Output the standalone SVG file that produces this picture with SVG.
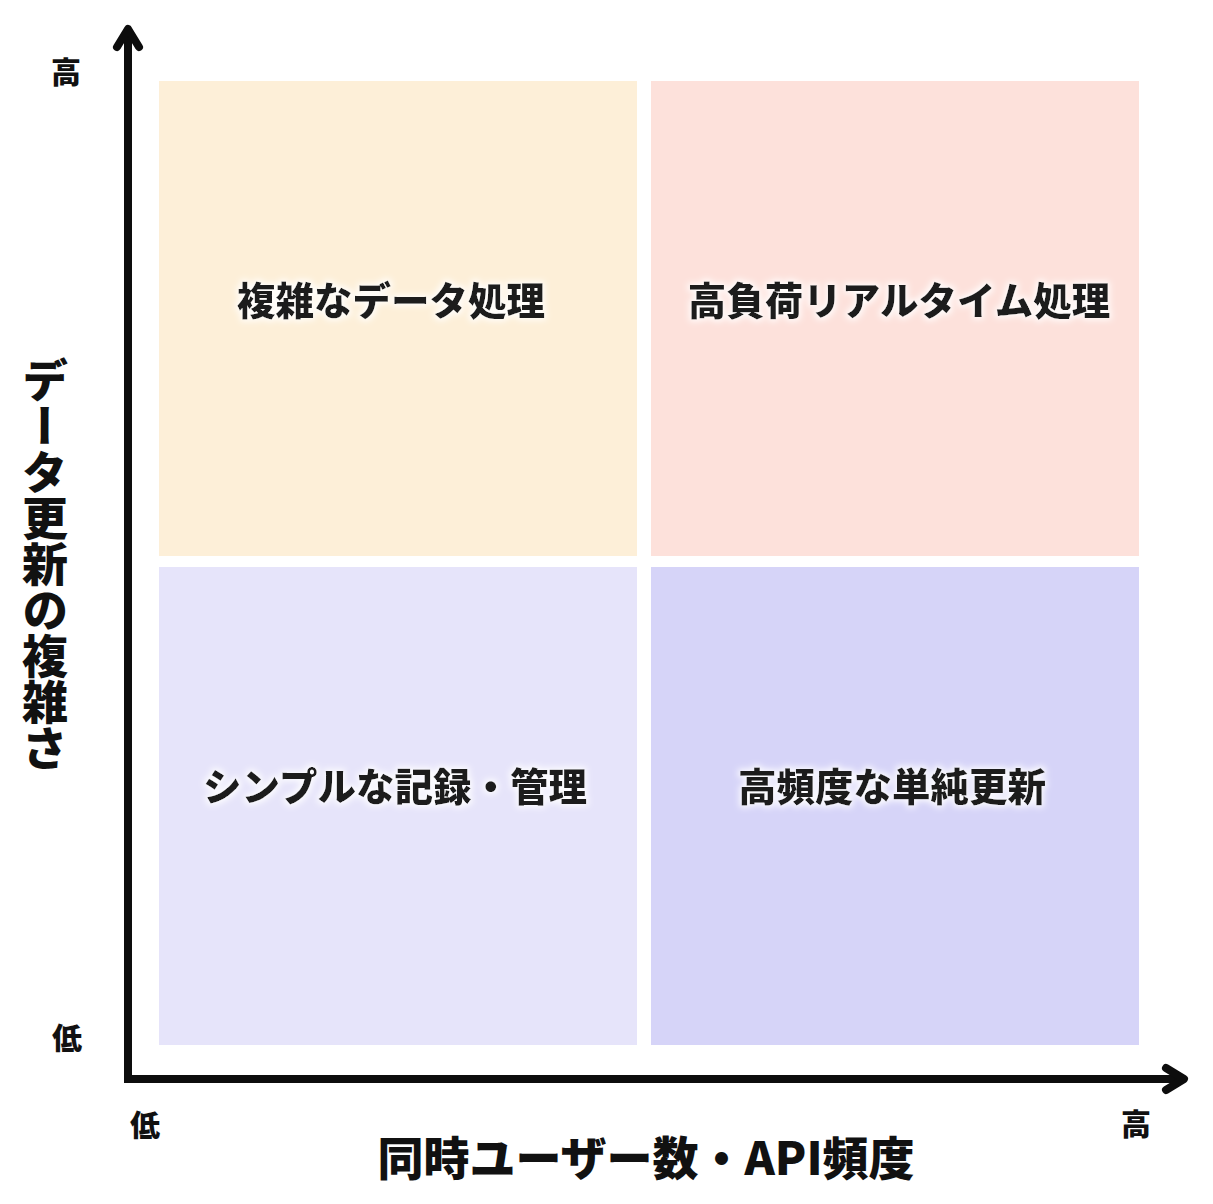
<svg xmlns="http://www.w3.org/2000/svg" width="1213" height="1204" viewBox="0 0 1213 1204">
<style>
  .q-label { font-family: "Noto Sans CJK JP", "Noto Sans", sans-serif; font-weight: 900; font-size: 38.5px; fill: #1a1a1a; text-anchor: middle; }
  .axis-title { font-family: "Noto Sans CJK JP", "Noto Sans", sans-serif; font-weight: 900; font-size: 46px; fill: #111; text-anchor: middle; }
  .tick { font-family: "Noto Sans CJK JP", "Noto Sans", sans-serif; font-weight: 900; font-size: 30px; fill: #111; text-anchor: middle; }
  .axis { fill: none; stroke: #0d0d0d; stroke-width: 8; }
  .head { fill: none; stroke: #0d0d0d; stroke-width: 8; stroke-linecap: round; stroke-linejoin: round; }
</style>
<defs>
  <filter id="glow" x="-10%" y="-50%" width="120%" height="200%">
    <feMorphology in="SourceAlpha" operator="dilate" radius="2" result="d"/>
    <feGaussianBlur in="d" stdDeviation="3" result="b"/>
    <feFlood flood-color="#ffffff" flood-opacity="0.9"/>
    <feComposite in2="b" operator="in" result="g"/>
    <feMerge><feMergeNode in="g"/><feMergeNode in="SourceGraphic"/></feMerge>
  </filter>
</defs>
<rect width="1213" height="1204" fill="#ffffff"/>

<g id="q-top-left">
  <rect x="159" y="81" width="478" height="475" fill="#fdefd8"/>
  <text class="q-label" x="391" y="315" filter="url(#glow)">複雑なデータ処理</text>
</g>
<g id="q-top-right">
  <rect x="651" y="81" width="488" height="475" fill="#fde1db"/>
  <text class="q-label" x="899" y="315" filter="url(#glow)">高負荷リアルタイム処理</text>
</g>
<g id="q-bottom-left">
  <rect x="159" y="567" width="478" height="478" fill="#e6e4fa"/>
  <text class="q-label" x="395" y="801" filter="url(#glow)">シンプルな記録・管理</text>
</g>
<g id="q-bottom-right">
  <rect x="651" y="567" width="488" height="478" fill="#d6d4f8"/>
  <text class="q-label" x="892" y="801" filter="url(#glow)">高頻度な単純更新</text>
</g>

<g id="connectors">
  <path class="axis" d="M128,30 V1079 H1183"/>
  <polyline class="head" points="117,47 128,29 139,47"/>
  <polyline class="head" points="1166,1068 1184,1079 1166,1090"/>
</g>

<g id="labels">
  <text class="tick" x="66" y="83">高</text>
  <text class="tick" x="67" y="1049">低</text>
  <text class="tick" x="145" y="1136">低</text>
  <text class="tick" x="1136" y="1135">高</text>
  <text class="axis-title" x="646" y="1175">同時ユーザー数・API頻度</text>
  <text class="axis-title" x="45" y="564" writing-mode="vertical-rl">データ更新の複雑さ</text>
</g>
</svg>
